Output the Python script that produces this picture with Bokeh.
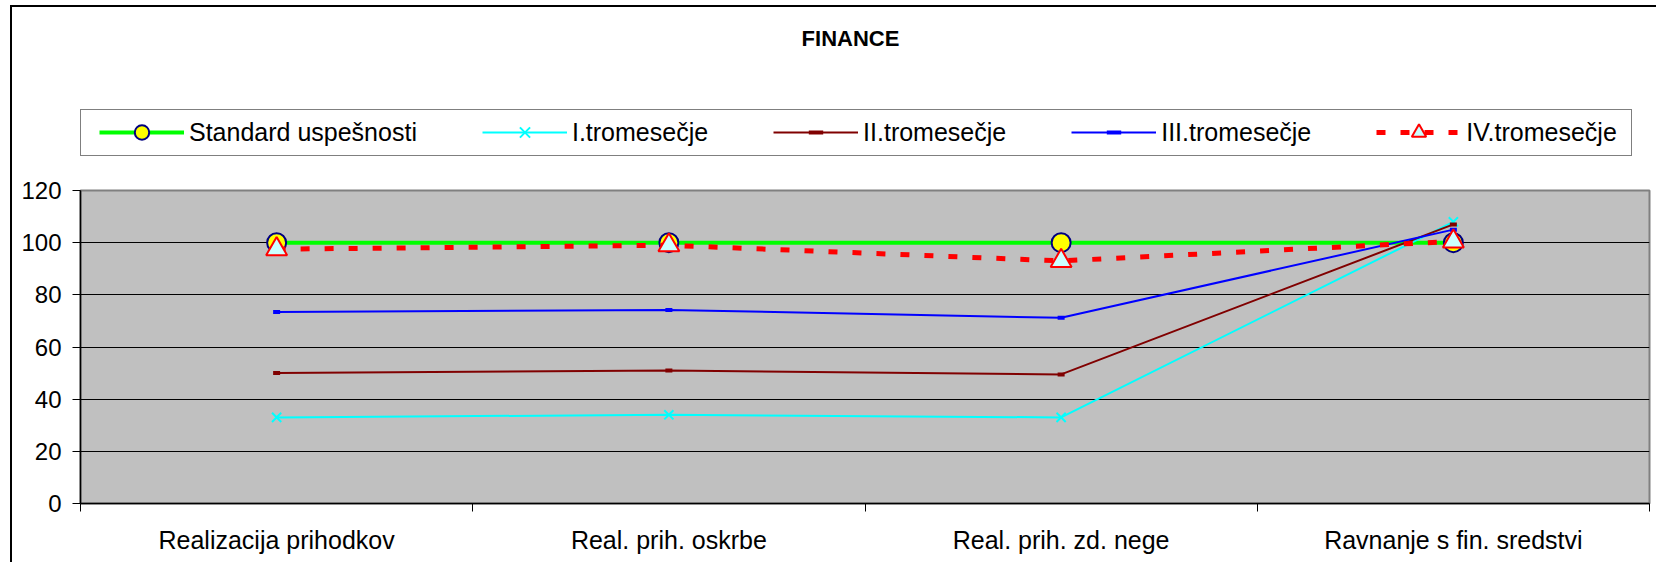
from bokeh.plotting import figure
from bokeh.layouts import column
from bokeh.models import (Range1d, LinearAxis, FixedTicker, Legend, LegendItem, Label,
                          ColumnDataSource)
from bokeh.embed import file_html
from bokeh.resources import INLINE

# ---- data ----
categories = ["Realizacija prihodkov", "Real. prih. oskrbe", "Real. prih. zd. nege", "Ravnanje s fin. sredstvi"]
standard = [100, 100, 100, 100]
q1 = [33, 34, 33, 108]
q2 = [50, 51, 49.5, 107]
q3 = [73.4, 74.2, 71.2, 105]
q4 = [97.5, 99, 93, 100.5]
y_ticks = [0, 20, 40, 60, 80, 100, 120]
series_names = ["Standard uspešnosti", "I.tromesečje", "II.tromesečje", "III.tromesečje", "IV.tromesečje"]
title_text = "FINANCE"

FONT = "Liberation Sans"
n = len(categories)
centers = [i + 0.5 for i in range(n)]          # category slot centres
bounds = list(range(n + 1))                    # category slot boundaries

src = ColumnDataSource(dict(x=centers, standard=standard, q1=q1, q2=q2, q3=q3, q4=q4))

styles = [
    ("standard", dict(line_color="#00FF00", line_width=4),
     dict(marker="circle", size=19, fill_color="#FFFF00", line_color="#000080", line_width=2)),
    ("q1", dict(line_color="#00FFFF", line_width=2),
     dict(marker="x", size=13, line_color="#00FFFF", line_width=2)),
    ("q2", dict(line_color="#800000", line_width=2),
     dict(marker="dash", size=7, line_color="#800000", line_width=4)),
    ("q3", dict(line_color="#0000FF", line_width=2),
     dict(marker="dash", size=7, line_color="#0000FF", line_width=4)),
    ("q4", dict(line_color="#FF0000", line_width=5, line_dash="9 15"),
     dict(marker="triangle", size=21, fill_color="#CCFFFF", line_color="#FF0000", line_width=2)),
]

# ---------------- header figure: title + legend ----------------
W = 1644
H_TOP = 170
top = figure(width=W, height=H_TOP, x_range=Range1d(0, 1), y_range=Range1d(-2, -1),
             x_axis_location=None, y_axis_location=None, title=None,
             output_backend="svg", toolbar_location=None,
             min_border_left=0, min_border_right=0, min_border_top=0, min_border_bottom=0)
top.outline_line_color = None
top.background_fill_color = "white"
top.border_fill_color = "white"
top.xgrid.visible = False
top.ygrid.visible = False

# legend sample renderers (same data, outside this header's visible range)
proxies = []
for key, lkw, mkw in styles:
    rl = top.line("x", key, source=src, **lkw)
    rm = top.scatter("x", key, source=src, **mkw)
    proxies.append((rl, rm))
dummy = top.line("x", "standard", source=src, line_alpha=0)

frame_leg = Legend(items=[LegendItem(label=" ", renderers=[dummy])], location=(0, 21),
                   orientation="horizontal", glyph_width=1550, glyph_height=45, label_width=0,
                   label_height=0, label_standoff=0, padding=0, margin=0, spacing=0,
                   label_text_font=FONT, label_text_font_size="25px",
                   border_line_color="black", border_line_width=1.5,
                   background_fill_color="white", background_fill_alpha=1)
top.add_layout(frame_leg, "center")

leg = Legend(items=[LegendItem(label=name, renderers=list(pr)) for name, pr in zip(series_names, proxies)],
             orientation="horizontal", location=(19, 27), glyph_width=85, glyph_height=36,
             label_standoff=5, spacing=65, padding=4, margin=0, label_height=36,
             border_line_color=None, background_fill_alpha=0,
             label_text_font=FONT, label_text_font_size="25px", label_text_color="black")
top.add_layout(leg, "center")

title = Label(x=770, y=139, x_units="screen", y_units="screen", text=title_text,
              text_font=FONT, text_font_size="22px", text_font_style="bold",
              text_align="center", text_baseline="middle", text_color="black")
top.add_layout(title)

# ---------------- main chart ----------------
p = figure(width=W, height=562 - 7 - H_TOP, x_range=Range1d(0, n), y_range=Range1d(0, 120),
           x_axis_location=None, title=None, output_backend="svg", toolbar_location=None,
           min_border_left=68, min_border_right=7, min_border_top=190 - 7 - H_TOP,
           min_border_bottom=59)
p.background_fill_color = "#C0C0C0"
p.border_fill_color = "white"
p.outline_line_color = "#808080"
p.outline_line_width = 2
p.xgrid.visible = False

yt = FixedTicker(ticks=y_ticks)
p.yaxis.ticker = yt
p.ygrid.ticker = yt
p.ygrid.grid_line_color = "black"
p.ygrid.grid_line_width = 1
p.yaxis.axis_line_color = "black"
p.yaxis.axis_line_width = 1.5
p.yaxis.major_tick_out = 8
p.yaxis.major_tick_in = 0
p.yaxis.major_tick_line_color = "black"
p.yaxis.minor_tick_line_color = None
p.yaxis.major_label_standoff = 11
p.yaxis.major_label_text_font = FONT
p.yaxis.major_label_text_font_size = "24px"
p.yaxis.major_label_text_color = "black"

tick_axis = LinearAxis(ticker=FixedTicker(ticks=bounds),
                       major_tick_out=8, major_tick_in=0, minor_tick_line_color=None,
                       major_label_overrides={b: "" for b in bounds},
                       major_label_standoff=0, major_label_text_font_size="1px",
                       axis_line_color="black", axis_line_width=1.5, major_tick_line_color="black")
p.add_layout(tick_axis, "below")
cat_axis = LinearAxis(ticker=FixedTicker(ticks=centers),
                      major_label_overrides={c: lab for c, lab in zip(centers, categories)},
                      axis_line_color=None, major_tick_line_color=None, minor_tick_line_color=None,
                      major_tick_out=0, major_tick_in=0, major_label_standoff=14,
                      major_label_text_font=FONT, major_label_text_font_size="25px",
                      major_label_text_color="black")
p.add_layout(cat_axis, "below")

for key, lkw, mkw in styles:
    p.line("x", key, source=src, **lkw)
    p.scatter("x", key, source=src, **mkw)

layout = column(top, p, spacing=0)
layout.styles = {"margin-left": "10px", "margin-top": "5px",
                 "border-top": "2px solid black", "border-left": "2px solid black"}

open("out.html", "w").write(file_html(layout, INLINE))
